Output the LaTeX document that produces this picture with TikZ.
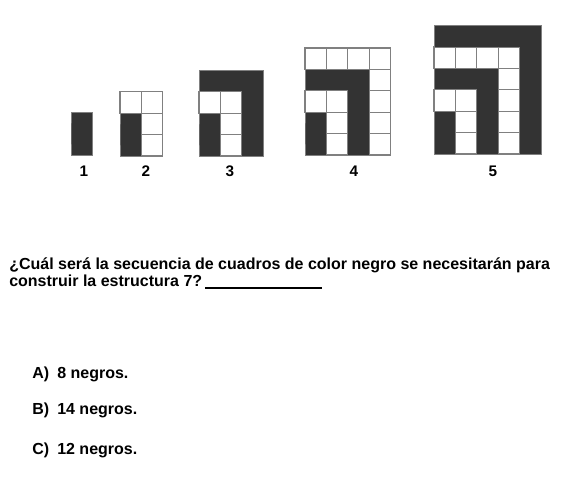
\documentclass[tikz,border=0pt]{standalone}
\usepackage{fontspec}
\setmainfont{Liberation Sans}
\definecolor{blk}{HTML}{333333}
\definecolor{gridgray}{HTML}{808080}
\tikzset{
  blkfill/.style={fill=blk, draw=gridgray, line width=0.6pt},
  wcell/.style={fill=white, draw=gridgray, line width=0.9pt},
  numlabel/.style={font=\bfseries\fontsize{11.5}{13}\selectfont, inner sep=0pt},
  qtext/.style={font=\bfseries\fontsize{12}{14}\selectfont, inner sep=0pt, anchor=base west},
}
\newcommand\figgrid[3]{%
\begin{scope}[xshift=#2*0.75pt, yshift=-#3*0.75pt, x=16.05pt, y=16.05pt]
\foreach \k in {1,...,#1}{
  \ifodd\k
    \draw[blkfill] (0,\k) -- (0,\k+1) -- (\k,\k+1) -- (\k,0) -- (\k-1,0) -- (\k-1,\k) -- cycle;
  \else
    \foreach \i in {1,...,\k}{\draw[wcell] (\i-1,\k) rectangle (\i,\k+1);}
    \foreach \j in {1,...,\k}{\draw[wcell] (\k-1,\j-1) rectangle (\k,\j);}
  \fi
}
\end{scope}}
\begin{document}
\begin{tikzpicture}[x=0.75pt,y=-0.75pt]
\useasboundingbox[fill=white] (0,0) rectangle (573,483);
\figgrid{1}{71}{155}
\figgrid{2}{120}{156}
\figgrid{3}{199}{156}
\figgrid{4}{305}{155}
\figgrid{5}{434}{154}
\node[numlabel] (l1) at (84,171) {1};
\node[numlabel] (l2) at (146,171) {2};
\node[numlabel] (l3) at (230,171) {3};
\node[numlabel] (l4) at (354,171) {4};
\node[numlabel] (l5) at (493,171) {5};
\node[qtext] (q1) at (9,269) {¿Cuál será la secuencia de cuadros de color negro se necesitarán para};
\node[qtext] (q2) at (9,286) {construir la estructura 7?};
\coordinate (u1) at (205,288);
\coordinate (u2) at (322,288);
\draw[line width=1.3pt] (u1) -- (u2);
\node[qtext] (a) at (32,378) {A)};
\node[qtext] (at) at (57,378) {8 negros.};
\node[qtext] (b) at (32,414) {B)};
\node[qtext] (bt) at (57,414) {14 negros.};
\node[qtext] (c) at (32,454) {C)};
\node[qtext] (ct) at (57,454) {12 negros.};
\end{tikzpicture}
\end{document}
